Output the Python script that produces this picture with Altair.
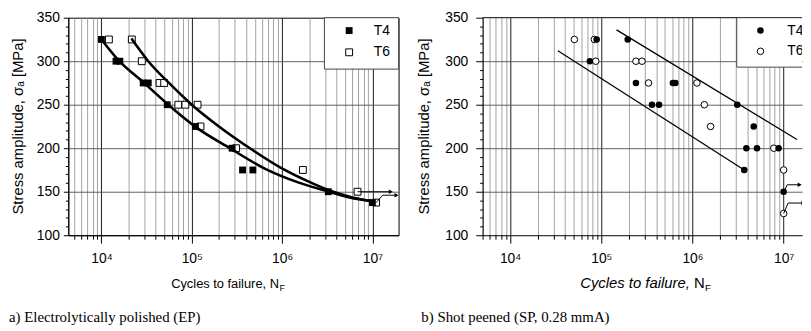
import altair as alt
import pandas as pd

# ---------------- (a) Electrolytically polished (EP) ----------------
ep_t4_cycles = [1.0e4, 1.45e4, 1.6e4, 2.9e4, 3.3e4, 5.35e4, 1.1e5, 2.8e5, 3.65e5, 4.75e5, 3.25e6, 1.0e7]
ep_t4_stress = [325, 300, 300, 275, 275, 250, 225, 200, 175, 175, 150, 137.5]
ep_t6_cycles = [1.21e4, 2.17e4, 2.8e4, 4.4e4, 4.95e4, 7.1e4, 8.5e4, 1.16e5, 1.25e5, 3.1e5, 1.7e6, 6.85e6, 1.1e7]
ep_t6_stress = [325, 325, 300, 275, 275, 250, 250, 250, 225, 200, 175, 150, 137.5]

ep_t4_fit_cycles = [1.0e4, 1.58e4, 2.9e4, 5.5e4, 1.12e5, 2.65e5, 6.6e5, 1.48e6, 3.2e6, 5.6e6, 1.0e7]
ep_t4_fit_stress = [325, 300, 276, 250, 224, 200, 176, 161, 150.5, 143.5, 139]
ep_t6_fit_cycles = [2.15e4, 3.3e4, 5.6e4, 1.0e5, 2.0e5, 4.4e5, 1.07e6, 2.24e6, 3.55e6, 6.0e6, 1.0e7]
ep_t6_fit_stress = [326, 300, 275, 250, 225, 200, 175, 159, 150.5, 143.5, 139]

ep_runout1_cycles = [6.85e6, 1.6e7]
ep_runout1_stress = [150, 150]
ep_runout2_cycles = [1.1e7, 1.3e7, 1.85e7]
ep_runout2_stress = [137.5, 146, 146]

# ---------------- (b) Shot peened (SP, 0.28 mmA) ----------------
sp_t4_cycles = [8.9e4, 1.95e5, 7.5e4, 2.4e5, 6.1e5, 6.5e5, 3.6e5, 4.3e5, 3.1e6, 4.7e6, 3.9e6, 5.1e6, 8.8e6, 3.7e6, 1.0e7]
sp_t4_stress = [325, 325, 300, 275, 275, 275, 250, 250, 250, 225, 200, 200, 200, 175, 150]
sp_t6_cycles = [5.07e4, 8.4e4, 8.7e4, 2.4e5, 2.8e5, 3.3e5, 1.12e6, 1.35e6, 1.58e6, 7.8e6, 1.0e7, 1.0e7]
sp_t6_stress = [325, 325, 300, 300, 300, 275, 275, 250, 225, 200, 175, 125]

sp_upper_cycles = [1.47e5, 1.4e7]
sp_upper_stress = [336, 210]
sp_lower_cycles = [3.34e4, 3.7e6]
sp_lower_stress = [312, 175]

sp_runout1_cycles = [1.0e7, 1.1e7, 1.5e7]
sp_runout1_stress = [150, 158, 158]
sp_runout2_cycles = [1.0e7, 1.12e7, 1.65e7]
sp_runout2_stress = [125, 137, 137]

series_names = ["T4", "T6"]

FONT = "Liberation Sans"
SERIF = "Liberation Serif"

DEC_TEST = "indexof([10000, 100000, 1000000, 10000000], datum.value) >= 0"
LABEL_EXPR = ("datum.value == 10000 ? '10\u2074' : datum.value == 100000 ? '10\u2075' : "
              "datum.value == 1000000 ? '10\u2076' : datum.value == 10000000 ? '10\u2077' : ''")


def grid_values(lo, hi):
    out = []
    for k in range(3, 8):
        for m in range(1, 10):
            v = m * 10 ** k
            if lo <= v <= hi:
                out.append(v)
    return out


def make_x(dom):
    return alt.X(
        "n:Q",
        scale=alt.Scale(type="log", domain=dom, nice=False),
        axis=alt.Axis(
            values=grid_values(dom[0], dom[1]), title=None, grid=True,
            gridColor={"condition": {"test": DEC_TEST, "value": "#1a1a1a"}, "value": "#8a8a8a"},
            gridWidth={"condition": {"test": DEC_TEST, "value": 1}, "value": 0.8},
            tickSize={"condition": {"test": DEC_TEST, "value": 8}, "value": 4},
            tickColor="black", domainColor="black",
            labelExpr=LABEL_EXPR, labelOverlap=False, labelFlush=False,
            labelFont=FONT, labelFontSize=14, labelColor="black",
            labelBaseline="alphabetic", labelPadding=20,
        ),
    )


def make_y(tick_major, pad):
    return alt.Y(
        "s:Q",
        scale=alt.Scale(domain=[100, 350], nice=False, zero=False),
        axis=alt.Axis(
            values=list(range(100, 351, 10)), title=None, grid=True,
            gridColor="#4d4d4d", gridWidth=0.9,
            gridOpacity={"condition": {"test": "datum.value % 50 == 0 && datum.value > 100 && datum.value < 350",
                                       "value": 1}, "value": 0},
            tickSize={"condition": {"test": "datum.value % 50 == 0", "value": tick_major}, "value": 3},
            tickColor="black", domainColor="black",
            labelExpr="datum.value % 50 == 0 ? datum.label : ''",
            labelFont=FONT, labelFontSize=14, labelColor="black", labelPadding=pad,
        ),
    )


def df(n, s):
    return pd.DataFrame({"n": n, "s": s})


one = pd.DataFrame({"k": [0]})


def vtext(txt, x, y, size, **kw):
    return alt.Chart(one).mark_text(text=txt, font=kw.pop("font", FONT), fontSize=size,
                                    color="black", **kw).encode(x=alt.value(x), y=alt.value(y))


def runout(n, s, X, Y):
    line = alt.Chart(df(n, s)).mark_line(color="black", strokeWidth=1, clip=True).encode(x=X, y=Y)
    head = alt.Chart(df(n[-1:], s[-1:])).mark_point(shape="triangle-right", filled=True, color="black",
                                                    size=22, opacity=1, clip=True).encode(x=X, y=Y)
    return [line, head]


# ---------------- left panel ----------------
XL = make_x([4300, 1.95e7])
YL = make_y(5, 4)
sq = dict(shape="square", size=48, opacity=1, filled=True)

left_layers = [
    alt.Chart(df(ep_t6_cycles, ep_t6_stress)).mark_point(fill="white", stroke="black", strokeWidth=1, **sq).encode(x=XL, y=YL),
    alt.Chart(df(ep_t4_cycles, ep_t4_stress)).mark_point(color="black", **sq).encode(x=XL, y=YL),
    alt.Chart(df(ep_t4_fit_cycles, ep_t4_fit_stress)).mark_line(color="black", strokeWidth=2.6, interpolate="monotone", clip=True).encode(x=XL, y=YL),
    alt.Chart(df(ep_t6_fit_cycles, ep_t6_fit_stress)).mark_line(color="black", strokeWidth=2.6, interpolate="monotone", clip=True).encode(x=XL, y=YL),
]
left_layers += runout(ep_runout1_cycles, ep_runout1_stress, XL, YL)
left_layers += runout(ep_runout2_cycles, ep_runout2_stress, XL, YL)
left_layers += [
    alt.Chart(one).mark_rect(fill="white", stroke="#444444", strokeWidth=1).encode(
        x=alt.value(259), x2=alt.value(334), y=alt.value(0), y2=alt.value(52)),
    alt.Chart(one).mark_point(color="black", **sq).encode(x=alt.value(284), y=alt.value(13)),
    alt.Chart(one).mark_point(fill="white", stroke="black", strokeWidth=1, **sq).encode(x=alt.value(284), y=alt.value(35)),
    vtext(series_names[0], 309, 13, 14, align="left", baseline="middle"),
    vtext(series_names[1], 309, 35, 14, align="left", baseline="middle"),
    vtext("Stress amplitude, \u03c3\u2090 [MPa]", -51, 110, 15, angle=270, align="center", baseline="middle"),
    vtext("Cycles to failure, N", 104, 273, 13, align="left", baseline="alphabetic"),
    vtext("F", 213.5, 276, 9, align="left", baseline="alphabetic"),
    vtext("a) Electrolytically polished (EP)", -60, 308, 15, font=SERIF, align="left", baseline="alphabetic"),
]
left = alt.layer(*left_layers).properties(
    width=334, height=220, view=alt.ViewBackground(stroke="black", strokeWidth=1))

# ---------------- right panel ----------------
XR = make_x([5000, 1.59e7])
YR = make_y(7, 8)
ci = dict(shape="circle", size=44, opacity=1, filled=True)

right_layers = [
    alt.Chart(df(sp_t6_cycles, sp_t6_stress)).mark_point(fill="white", stroke="black", strokeWidth=1, **ci).encode(x=XR, y=YR),
    alt.Chart(df(sp_t4_cycles, sp_t4_stress)).mark_point(color="black", **ci).encode(x=XR, y=YR),
    alt.Chart(df(sp_upper_cycles, sp_upper_stress)).mark_line(color="black", strokeWidth=1.3, clip=True).encode(x=XR, y=YR),
    alt.Chart(df(sp_lower_cycles, sp_lower_stress)).mark_line(color="black", strokeWidth=1.3, clip=True).encode(x=XR, y=YR),
]
right_layers += runout(sp_runout1_cycles, sp_runout1_stress, XR, YR)
right_layers += runout(sp_runout2_cycles, sp_runout2_stress, XR, YR)
right_layers += [
    alt.Chart(one).mark_rule(color="black", strokeWidth=1).encode(x=alt.value(0), x2=alt.value(323), y=alt.value(0)),
    alt.Chart(one).mark_rect(fill="white", stroke="#444444", strokeWidth=1, clip=True).encode(
        x=alt.value(257), x2=alt.value(360), y=alt.value(0), y2=alt.value(50)),
    alt.Chart(one).mark_point(color="black", **ci).encode(x=alt.value(281), y=alt.value(13)),
    alt.Chart(one).mark_point(fill="white", stroke="black", strokeWidth=1, **ci).encode(x=alt.value(281), y=alt.value(34)),
    vtext(series_names[0], 308, 13, 14, align="left", baseline="middle", clip=True),
    vtext(series_names[1], 308, 34, 14, align="left", baseline="middle", clip=True),
    vtext("Stress amplitude, \u03c3\u2090 [MPa]", -59, 110, 15, angle=270, align="center", baseline="middle"),
    vtext("Cycles to failure,", 98.7, 273, 15, align="left", baseline="alphabetic", fontStyle="italic"),
    vtext("N", 213.7, 273, 15, align="left", baseline="alphabetic"),
    vtext("F", 225, 276, 10, align="left", baseline="alphabetic"),
    vtext("b) Shot peened (SP, 0.28 mmA)", -62, 308, 15, font=SERIF, align="left", baseline="alphabetic"),
]
right = alt.layer(*right_layers).properties(
    width=323, height=220, view=alt.ViewBackground(strokeOpacity=0))

chart = alt.hconcat(left, right, spacing=18).properties(
    padding={"left": 0, "top": 0, "right": 0, "bottom": 0}, background="white")

chart.save("out.html", embed_options={"renderer": "svg", "actions": False})
